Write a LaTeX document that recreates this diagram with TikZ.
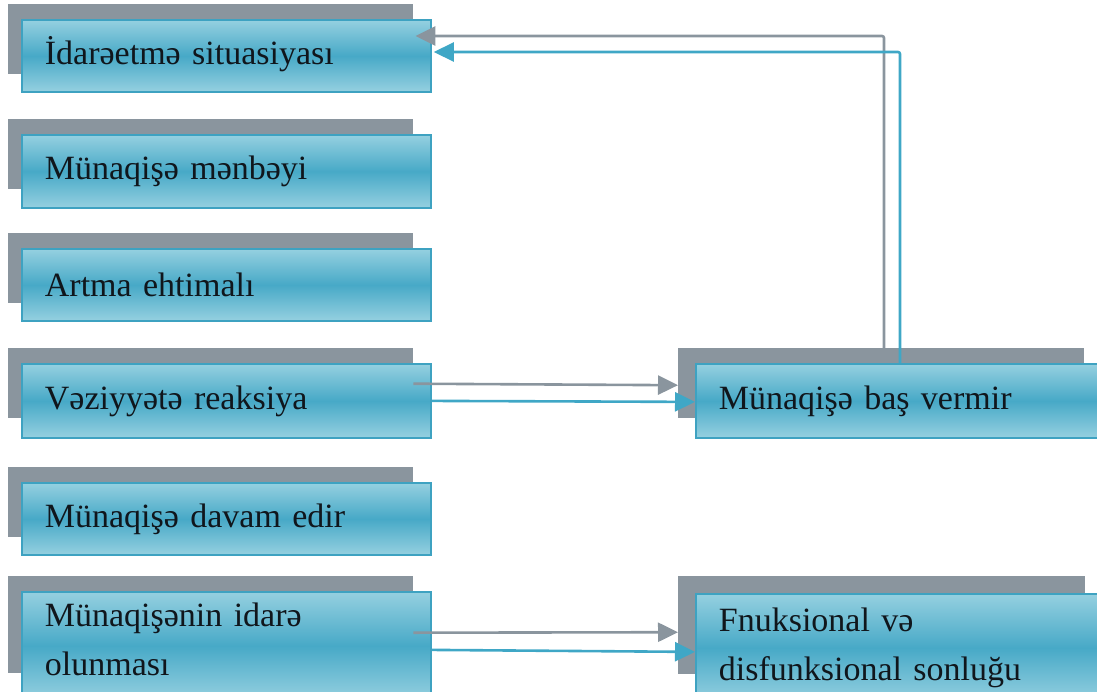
\documentclass[tikz,border=0pt]{standalone}
\usepackage{fontspec}
\setmainfont{Liberation Serif}
\usetikzlibrary{arrows.meta}
\definecolor{shadowgray}{HTML}{8A959E}
\definecolor{tealtop}{HTML}{95D0E0}
\definecolor{tealmid}{HTML}{47A9C7}
\definecolor{tealedge}{HTML}{3EA2C1}
\definecolor{graylink}{HTML}{8A959E}
\definecolor{teallink}{HTML}{3FA7C6}
\definecolor{txt}{HTML}{10161C}
\tikzset{
  shadowbox/.style={fill=shadowgray, draw=none, inner sep=0pt, anchor=north west},
  tealbox/.style={top color=tealtop, bottom color=tealtop, middle color=tealmid,
    draw=tealedge, line width=1.8pt, anchor=north west, inner xsep=23pt, inner ysep=0pt,
    align=left, text=txt, font=\fontsize{34}{49}\selectfont},
  graylinkstyle/.style={draw=graylink, line width=2.6pt, -{Triangle[length=20pt,width=19pt]}},
  teallinkstyle/.style={draw=teallink, line width=2.6pt, -{Triangle[length=20pt,width=19pt]}},
}
\begin{document}
\begin{tikzpicture}[x=1pt,y=-1pt]
\useasboundingbox (0,0) rectangle (1097,691);
% left column shadows
\node[shadowbox, minimum width=405pt, minimum height=70pt] (s1) at (8,4) {};
\node[shadowbox, minimum width=405pt, minimum height=70pt] (s2) at (8,119) {};
\node[shadowbox, minimum width=405pt, minimum height=70pt] (s3) at (8,233) {};
\node[shadowbox, minimum width=405pt, minimum height=70pt] (s4) at (8,348) {};
\node[shadowbox, minimum width=405pt, minimum height=70pt] (s5) at (8,467) {};
\node[shadowbox, minimum width=405pt, minimum height=97pt] (s6) at (8,576) {};
% right column shadows
\node[shadowbox, minimum width=406pt, minimum height=70pt] (s7) at (678,348) {};
\node[shadowbox, minimum width=407pt, minimum height=98pt] (s8) at (678,576) {};
% left column boxes
\node[tealbox, text width=363pt, minimum height=72pt, text depth=10pt] (b1) at (21,19) {İdarəetmə situasiyası};
\node[tealbox, text width=363pt, minimum height=73pt] (b2) at (21,134) {Münaqişə mənbəyi};
\node[tealbox, text width=363pt, minimum height=72pt] (b3) at (21,248) {Artma ehtimalı};
\node[tealbox, text width=363pt, minimum height=74pt] (b4) at (21,363) {Vəziyyətə reaksiya};
\node[tealbox, text width=363pt, minimum height=72pt] (b5) at (21,482) {Münaqişə davam edir};
\node[tealbox, text width=363pt, minimum height=108pt, text depth=63pt] (b6) at (21,591) {Münaqişənin idarə\\olunması};
% right column boxes
\node[tealbox, text width=374pt, minimum height=74pt] (b7) at (695,363) {Münaqişə baş vermir};
\node[tealbox, text width=374pt, minimum height=108pt] (b8) at (695,593) {Fnuksional və\\disfunksional sonluğu};
% connectors
\draw[graylinkstyle] ([yshift=-0.5pt]s4.east) -- ([yshift=-2pt]s7.west);
\draw[teallinkstyle] (b4.east) -- ([yshift=-1pt]b7.west);
\draw[graylinkstyle] ([yshift=-8pt]s6.east) -- ([yshift=-7pt]s8.west);
\draw[teallinkstyle] ([yshift=-4pt]b6.east) -- ([yshift=-4pt]b8.west);
\coordinate (gc) at (884,36);
\coordinate (tc) at (900,52);
\draw[graylinkstyle, rounded corners=2pt] (s7.north -| gc) -- (gc) -- ([xshift=2pt]s1.east |- gc);
\draw[teallinkstyle, rounded corners=2pt] (b7.north -| tc) -- (tc) -- ([xshift=2pt]b1.east |- tc);
\end{tikzpicture}
\end{document}
